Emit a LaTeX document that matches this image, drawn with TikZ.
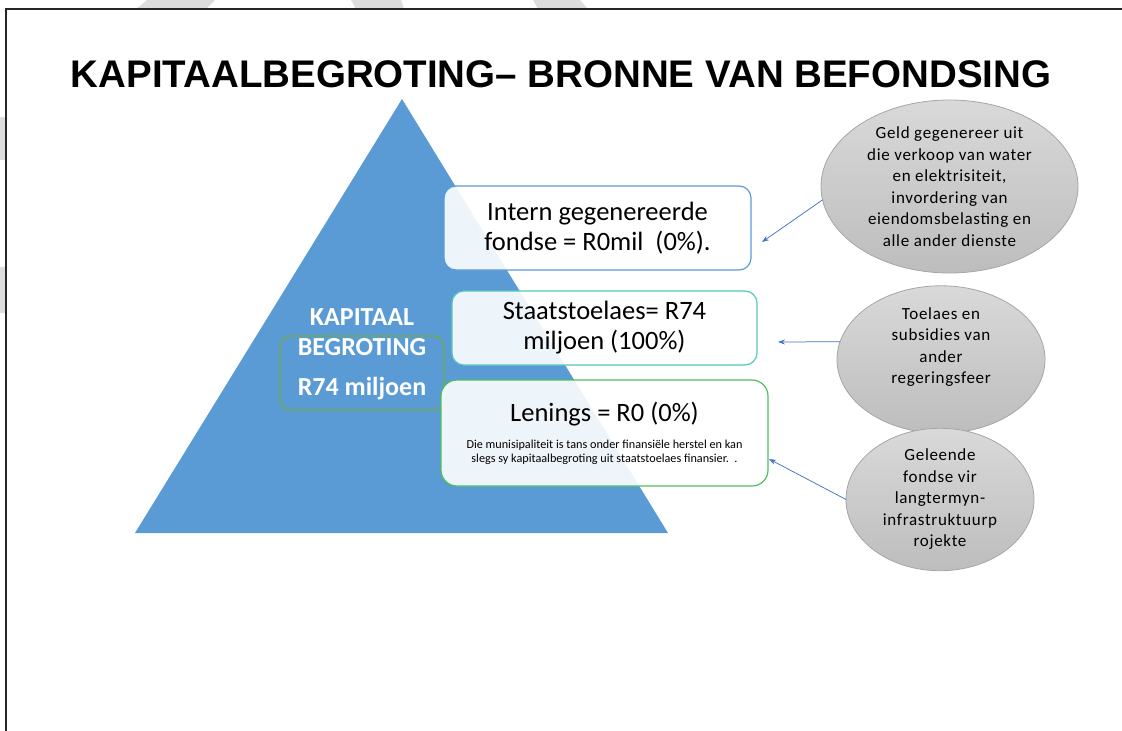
\documentclass[tikz,border=0pt]{standalone}
\usepackage{fontspec}
\setmainfont{Carlito}
\newfontfamily\titlefont{Liberation Sans}
\newfontfamily\ovalfont[LetterSpace=4]{Carlito}
\usetikzlibrary{arrows.meta,shapes.geometric}
\definecolor{triblue}{HTML}{5B9BD5}
\definecolor{box1line}{HTML}{5B9BD5}
\definecolor{box2line}{HTML}{55C8B8}
\definecolor{box3line}{HTML}{4EBF5E}
\definecolor{budgetline}{HTML}{70AD47}
\definecolor{ovaltop}{HTML}{D9D9D9}
\definecolor{ovalbot}{HTML}{BDBDBD}
\definecolor{ovalline}{HTML}{A6A6A6}
\definecolor{arrowblue}{HTML}{4472C4}
\definecolor{stripe}{HTML}{DDDDDD}
\newcommand\smalltxt{\fontsize{12.2}{14}\selectfont}
\begin{document}
\begin{tikzpicture}[x=1pt,y=-1pt,inner sep=0pt,outer sep=0pt,
srcbox/.style={draw,rectangle,rounded corners=12pt,fill=white,fill opacity=0.9,text opacity=1,line width=1.2pt,align=center,font=\fontsize{26.5}{30}\selectfont},
oval/.style={draw=ovalline,ellipse,line width=0.8pt,top color=ovaltop,bottom color=ovalbot,align=center,font=\ovalfont\fontsize{17}{21.5}\selectfont},
conn/.style={draw=arrowblue,line width=0.75pt,-{Stealth[length=7pt,width=5pt]}}]
\useasboundingbox (0,0) rectangle (1122,731);
% watermark bits outside the slide
\fill[stripe] (136,9) -- (147,0) -- (215,0) -- (206,9) -- cycle;
\fill[stripe] (356,9) -- (351,0) -- (401,0) -- (404,9) -- cycle;
\fill[stripe] (538,9) -- (533,0) -- (580,0) -- (588,9) -- cycle;
\fill[stripe] (0,117) rectangle (6,160);
\fill[stripe] (0,267) rectangle (6,313);
\draw[line width=1.5pt,black!85] (6,731) -- (6,9) -- (1122,9);
% title
\draw (561,87) node[anchor=base,font=\titlefont\bfseries\fontsize{38.5}{40}\selectfont] (title) {KAPITAALBEGROTING– BRONNE VAN BEFONDSING};
% pyramid
\fill[triblue] (402,99) -- (668,533) -- (135,533) -- cycle;
\draw (362,373) node[draw=budgetline,rectangle,rounded corners=10pt,line width=1.2pt,minimum width=164pt,minimum height=74pt] (budgetbox) {};
\draw (362,309) node[anchor=north,text=white,align=center,font=\bfseries\fontsize{26}{30}\selectfont] (budget) {KAPITAAL\\BEGROTING\\[10pt]R74 miljoen};
% sources
\draw (597.5,228) node[srcbox,draw=box1line,minimum width=307pt,minimum height=84pt] (intern) {Intern gegenereerde\\fondse = R0mil~ (0\%).};
\draw (604.5,328) node[srcbox,draw=box2line,minimum width=305pt,minimum height=74pt] (staat) {Staatstoelaes= R74\\miljoen (100\%)};
\draw (604.5,433) node[srcbox,draw=box3line,rounded corners=16pt,minimum width=327pt,minimum height=106pt] (lenings) {Lenings = R0 (0\%)\\[-2.5pt]\smalltxt Die munisipaliteit is tans onder finansiële herstel en kan\\[-16.5pt]\smalltxt slegs sy kapitaalbegroting uit staatstoelaes finansier.~~.};
% explanations
\draw (949.5,186.5) node[oval,inner ysep=-2pt,minimum width=257pt,minimum height=173pt] (geld) {Geld gegenereer uit\\die verkoop van water\\en elektrisiteit,\\invordering van\\eiendomsbelasting en\\alle ander dienste};
\draw (941,359.5) node[oval,minimum width=208pt,minimum height=141pt] (toelaes) {Toelaes en\\subsidies van\\ander\\regeringsfeer\\\strut};
\draw (940,499.5) node[oval,minimum width=188pt,minimum height=137pt] (geleende) {Geleende\\fondse vir\\langtermyn-\\infrastruktuurp\\rojekte};
\coordinate (a1) at (762,242);
\coordinate (a2) at (778,342);
\coordinate (a3) at (769,459);
\draw[conn] (geld.186) -- (a1);
\draw[conn] (toelaes.170) -- (a2);
\draw[conn] (geleende.west) -- (a3);
\end{tikzpicture}
\end{document}
